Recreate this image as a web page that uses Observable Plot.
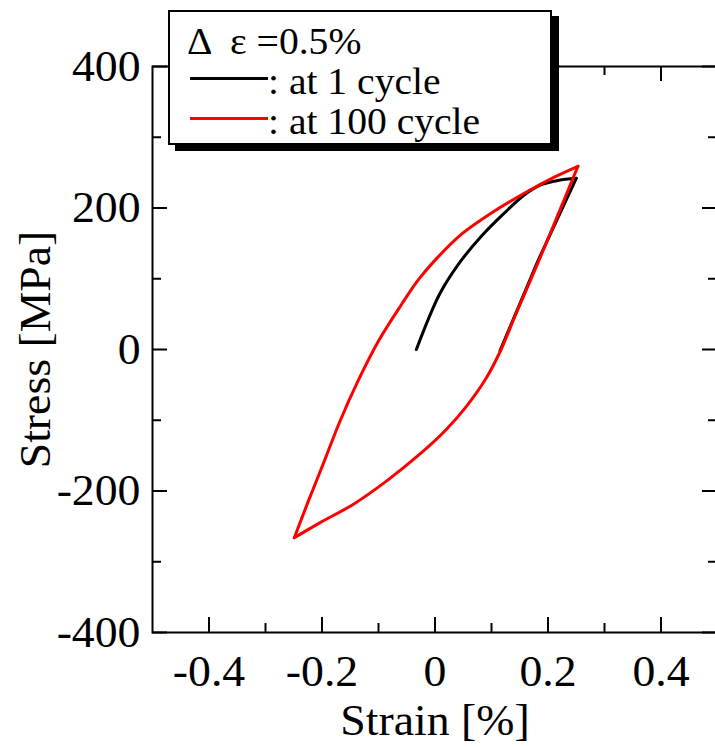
<!DOCTYPE html>
<html>
<head>
<meta charset="utf-8">
<script src="https://cdn.jsdelivr.net/npm/d3@7"></script>
<script src="https://cdn.jsdelivr.net/npm/@observablehq/plot@0.6"></script>
<style>
  html, body { margin: 0; padding: 0; background: #fff; overflow: hidden; }
  #wrap { position: relative; width: 715px; height: 747px; overflow: hidden; }
  #chart { position: absolute; left: 0; top: 0; width: 722px; }
  #chart svg { max-width: none !important; }
  #legend {
    position: absolute; left: 168px; top: 10px;
    width: 380px; height: 121px; padding-top: 10px;
    border: 2px solid #000; background: #fff;
    box-shadow: 7px 6px 0 #000;
    font-family: "Liberation Serif", "Times New Roman", serif;
    font-size: 37px; color: #000;
  }
  .row { height: 40px; line-height: 40px; white-space: pre; }
  .row .t { display: inline-block; transform: scaleX(1.07); transform-origin: 0 50%; }
  .sw { display: inline-block; width: 78px; height: 3px; vertical-align: 14px; }
</style>
</head>
<body>
<div id="wrap">
  <div id="chart"></div>
  <div id="legend"></div>
</div>
<script>
// ---- data (strain in %, stress in MPa) ----
const cycle1LoadStrain   = [-0.033, 0.008, 0.041, 0.082, 0.123, 0.159, 0.188, 0.218, 0.250];
const cycle1LoadStress   = [0, 78, 120, 160, 193, 219, 233, 239, 242];
const cycle1UnloadStrain = [0.250, 0.182, 0.115];
const cycle1UnloadStress = [242, 125, -2];

const cycle100UpStrain   = [-0.249, -0.224, -0.198, -0.168, -0.136, -0.100, -0.059, -0.030, 0.001, 0.047, 0.100, 0.165, 0.212, 0.253];
const cycle100UpStress   = [-266, -214, -162, -101, -44, 12, 64, 98, 127, 163, 193, 224, 244, 259];
const cycle100DownStrain = [0.253, 0.182, 0.141, 0.117, 0.091, 0.056, 0.020, -0.027, -0.086, -0.145, -0.204, -0.249];
const cycle100DownStress = [259, 122, 46, 0, -40, -80, -113, -148, -186, -219, -245, -266];

const xMajorTicks = [-0.4, -0.2, 0, 0.2, 0.4];
const xMinorTicks = [-0.3, -0.1, 0.1, 0.3];
const yMajorTicks = [-400, -200, 0, 200, 400];
const yMinorTicks = [-300, -100, 100, 300];

const xLabel = "Strain [%]";
const yLabel = "Stress [MPa]";
const legendTitle = "Δ  ε =0.5%";
const seriesNames = [": at 1 cycle", ": at 100 cycle"];
const seriesColors = ["#000000", "#ff0000"];

// ---- build tables ----
function rows(xs, ys, branch) { return xs.map((x, i) => ({strain: x, stress: ys[i], branch})); }
const loadCurves = rows(cycle1LoadStrain, cycle1LoadStress, "c1load");
const linearCurves = rows(cycle1UnloadStrain, cycle1UnloadStress, "c1unload");
const redCurves = [
  ...rows(cycle100UpStrain, cycle100UpStress, "up"),
  ...rows(cycle100DownStrain, cycle100DownStress, "down")
];

const W = 722, H = 747, mL = 152, mR = 5, mT = 66, mB = 115;
const innerW = W - mL - mR, innerH = H - mT - mB;
const fmt = d => String(d);
const FONT = "'Liberation Serif', 'Times New Roman', serif";
const FS = 44;

const chart = Plot.plot({
  width: W, height: H,
  marginLeft: mL, marginRight: mR, marginTop: mT, marginBottom: mB,
  style: {fontFamily: FONT, color: "#000", background: "#fff", overflow: "visible", maxWidth: "none"},
  x: {domain: [-0.5, 0.5]},
  y: {domain: [-400, 400]},
  marks: [
    // inward ticks on all four sides
    Plot.tickX(xMajorTicks, {x: d => d, insetTop: innerH - 15, strokeWidth: 2}),
    Plot.tickX(xMinorTicks, {x: d => d, insetTop: innerH - 9, strokeWidth: 2}),
    Plot.tickX(xMajorTicks, {x: d => d, insetBottom: innerH - 15, strokeWidth: 2}),
    Plot.tickX(xMinorTicks, {x: d => d, insetBottom: innerH - 9, strokeWidth: 2}),
    Plot.tickY(yMajorTicks, {y: d => d, insetRight: innerW - 15, strokeWidth: 2}),
    Plot.tickY(yMinorTicks, {y: d => d, insetRight: innerW - 9, strokeWidth: 2}),
    Plot.tickY(yMajorTicks, {y: d => d, insetLeft: innerW - 15, strokeWidth: 2}),
    Plot.tickY(yMinorTicks, {y: d => d, insetLeft: innerW - 9, strokeWidth: 2}),
    Plot.frame({stroke: "#000", strokeWidth: 2}),
    // curves (1st cycle underneath, 100th cycle on top)
    Plot.line(loadCurves, {x: "strain", y: "stress", z: "branch", stroke: seriesColors[0], strokeWidth: 3, curve: "catmull-rom", strokeLinejoin: "round"}),
    Plot.line(linearCurves, {x: "strain", y: "stress", z: "branch", stroke: seriesColors[0], strokeWidth: 3, strokeLinejoin: "round"}),
    Plot.line(redCurves, {x: "strain", y: "stress", z: "branch", stroke: seriesColors[1], strokeWidth: 3, curve: "catmull-rom", strokeLinejoin: "round"}),
    // axes (labels only)
    Plot.axisX({anchor: "bottom", ticks: xMajorTicks, tickSize: 0, tickPadding: 22, tickFormat: fmt, fontSize: FS, label: null}),
    Plot.axisY({anchor: "left", ticks: yMajorTicks, tickSize: 0, tickPadding: 12, tickFormat: fmt, fontSize: FS, label: null}),
    // axis titles
    Plot.text([xLabel], {frameAnchor: "bottom", text: d => d, dy: 88, fontSize: FS, lineAnchor: "middle", textAnchor: "middle"}),
    Plot.text([yLabel], {frameAnchor: "left", text: d => d, dx: -117, rotate: -90, fontSize: FS, lineAnchor: "middle", textAnchor: "middle"})
  ]
});

chart.style.maxWidth = "none";
chart.style.width = W + "px";
chart.style.height = H + "px";
// slight widening to match the reference's typeface proportions
d3.select(chart).selectAll("text").each(function() {
  const t = this.getAttribute("transform") || "";
  this.setAttribute("transform", t + " scale(1.04,1)");
});
d3.select(chart).selectAll("text").attr("fill", "#000");
document.getElementById("chart").appendChild(chart);

// legend
const legend = d3.select("#legend");
legend.append("div").attr("class", "row").style("padding-left", "17px")
  .append("span").attr("class", "t").text(legendTitle);
seriesNames.forEach((name, i) => {
  const r = legend.append("div").attr("class", "row").style("padding-left", "20px");
  r.append("span").attr("class", "sw").style("background", seriesColors[i]);
  r.append("span").attr("class", "t").text(name);
});
</script>
</body>
</html>
